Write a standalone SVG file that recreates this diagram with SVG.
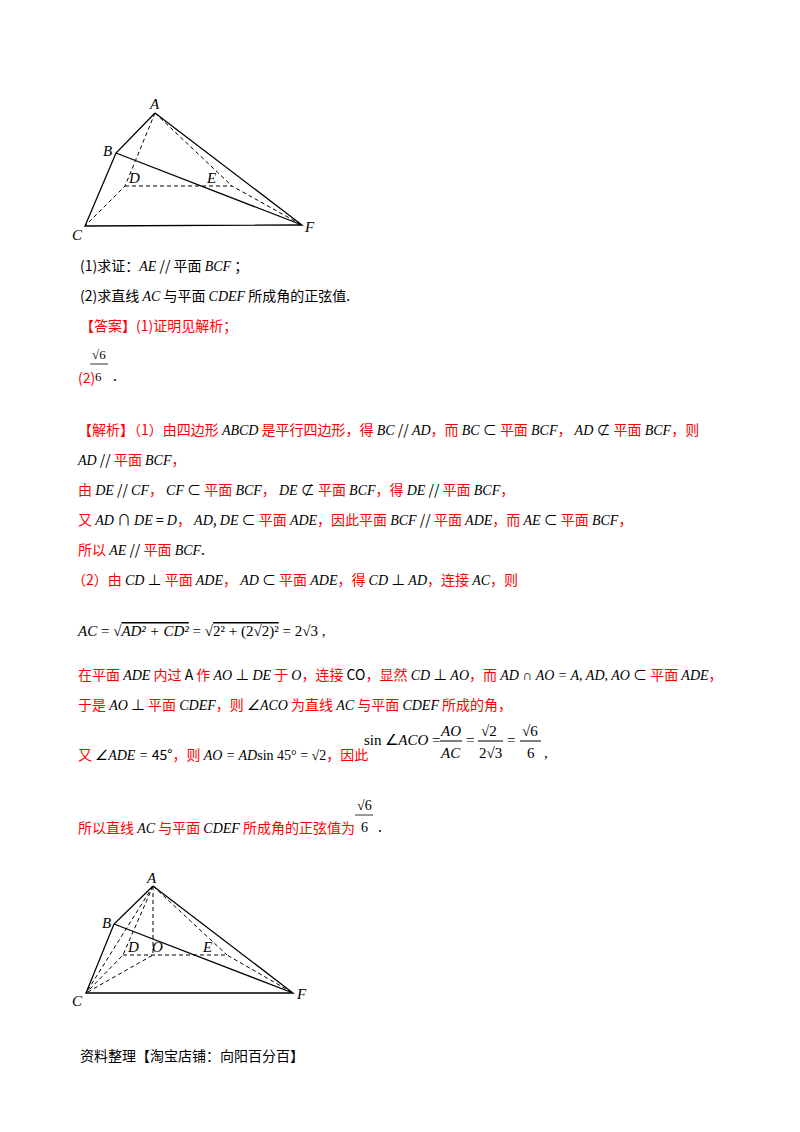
<svg xmlns="http://www.w3.org/2000/svg" width="800" height="1132" viewBox="0 0 800 1132">
<style>
.s{stroke:#000;stroke-width:1.3;fill:none}
.d{stroke:#000;stroke-width:1;fill:none;stroke-dasharray:4,3}
.lb{font-family:"Liberation Serif",serif;font-style:italic;font-size:15px}
.t{font-family:"Noto Sans CJK SC","Liberation Sans",sans-serif;font-size:14px}
.r{fill:#ff0000}
.m{font-family:"Liberation Serif",serif;font-style:italic}
.n{font-family:"Liberation Serif",serif;font-style:normal}
</style>
<rect width="800" height="1132" fill="#fff"/>
<g id="fig1">
<g id="edges1">
<path class="s" d="M155,113L116,153L85,226L302,225L155,113M116,153L302,225"/>
<path class="d" d="M155,113L125,186L85,226M125,186L232,186L302,225M155,113L232,186"/>
</g>
<text class="lb" x="150" y="109">A</text><text class="lb" x="103" y="156">B</text>
<text class="lb" x="129" y="183">D</text><text class="lb" x="207" y="183">E</text>
<text class="lb" x="72" y="240">C</text><text class="lb" x="305" y="232">F</text>
</g>
<g id="text" class="t">
<text x="80" y="271">(1)求证：<tspan class="m">AE</tspan> // 平面 <tspan class="m">BCF</tspan> ；</text>
<text x="80" y="301">(2)求直线 <tspan class="m">AC</tspan> 与平面 <tspan class="m">CDEF</tspan> 所成角的正弦值.</text>
<text class="r" x="80" y="331">【答案】(1)证明见解析；</text>
<text class="n" x="92" y="359" font-size="13">√6</text>
<line x1="90" y1="364" x2="108" y2="364" stroke="#000" stroke-width="0.8"/>
<text class="n" x="95" y="381" font-size="13">6</text>
<text class="r" x="78" y="383">(2)</text><text x="113" y="381">.</text>
<text class="r" x="78" y="435">【解析】（1）由四边形 <tspan class="m" fill="#000">ABCD</tspan> 是平行四边形，得 <tspan class="m" fill="#000">BC</tspan><tspan fill="#000"> // </tspan><tspan class="m" fill="#000">AD</tspan>，而 <tspan class="m" fill="#000">BC</tspan><tspan fill="#000"> ⊂ </tspan>平面 <tspan class="m" fill="#000">BCF</tspan>， <tspan class="m" fill="#000">AD</tspan><tspan fill="#000"> ⊄ </tspan>平面 <tspan class="m" fill="#000">BCF</tspan>，则</text>
<text class="r" x="78" y="465"><tspan class="m" fill="#000">AD</tspan><tspan fill="#000"> // </tspan>平面 <tspan class="m" fill="#000">BCF</tspan>，</text>
<text class="r" x="78" y="495">由 <tspan class="m" fill="#000">DE</tspan><tspan fill="#000"> // </tspan><tspan class="m" fill="#000">CF</tspan>， <tspan class="m" fill="#000">CF</tspan><tspan fill="#000"> ⊂ </tspan>平面 <tspan class="m" fill="#000">BCF</tspan>， <tspan class="m" fill="#000">DE</tspan><tspan fill="#000"> ⊄ </tspan>平面 <tspan class="m" fill="#000">BCF</tspan>，得 <tspan class="m" fill="#000">DE</tspan><tspan fill="#000"> // </tspan>平面 <tspan class="m" fill="#000">BCF</tspan>，</text>
<text class="r" x="78" y="525">又 <tspan class="m" fill="#000">AD</tspan><tspan fill="#000"> ∩ </tspan><tspan class="m" fill="#000">DE</tspan><tspan fill="#000"> = </tspan><tspan class="m" fill="#000">D</tspan>， <tspan class="m" fill="#000">AD</tspan><tspan fill="#000">, </tspan><tspan class="m" fill="#000">DE</tspan><tspan fill="#000"> ⊂ </tspan>平面 <tspan class="m" fill="#000">ADE</tspan>，因此平面 <tspan class="m" fill="#000">BCF</tspan><tspan fill="#000"> // </tspan>平面 <tspan class="m" fill="#000">ADE</tspan>，而 <tspan class="m" fill="#000">AE</tspan><tspan fill="#000"> ⊂ </tspan>平面 <tspan class="m" fill="#000">BCF</tspan>，</text>
<text class="r" x="78" y="555">所以 <tspan class="m" fill="#000">AE</tspan><tspan fill="#000"> // </tspan>平面 <tspan class="m" fill="#000">BCF</tspan><tspan fill="#000">.</tspan></text>
<text class="r" x="72" y="585">（2）由 <tspan class="m" fill="#000">CD</tspan><tspan fill="#000"> ⊥ </tspan>平面 <tspan class="m" fill="#000">ADE</tspan>， <tspan class="m" fill="#000">AD</tspan><tspan fill="#000"> ⊂ </tspan>平面 <tspan class="m" fill="#000">ADE</tspan>，得 <tspan class="m" fill="#000">CD</tspan><tspan fill="#000"> ⊥ </tspan><tspan class="m" fill="#000">AD</tspan>，连接 <tspan class="m" fill="#000">AC</tspan>，则</text>
<text class="n" x="78" y="636" font-size="15"><tspan class="m">AC</tspan> = √<tspan class="m" text-decoration="overline">AD² + CD²</tspan> = √<tspan text-decoration="overline">2² + (2√2)²</tspan> = 2√3 ,</text>
<text class="r" x="78" y="680">在平面 <tspan class="m" fill="#000">ADE</tspan> 内过 <tspan fill="#000">A</tspan> 作 <tspan class="m" fill="#000">AO</tspan><tspan fill="#000"> ⊥ </tspan><tspan class="m" fill="#000">DE</tspan> 于 <tspan class="m" fill="#000">O</tspan>，连接 <tspan fill="#000">CO</tspan>，显然 <tspan class="m" fill="#000">CD</tspan><tspan fill="#000"> ⊥ </tspan><tspan class="m" fill="#000">AO</tspan>，而 <tspan class="m" fill="#000">AD ∩ AO = A, AD, AO</tspan><tspan fill="#000"> ⊂ </tspan>平面 <tspan class="m" fill="#000">ADE</tspan>，</text>
<text class="r" x="78" y="710">于是 <tspan class="m" fill="#000">AO</tspan><tspan fill="#000"> ⊥ </tspan>平面 <tspan class="m" fill="#000">CDEF</tspan>，则 <tspan class="m" fill="#000">∠ACO</tspan> 为直线 <tspan class="m" fill="#000">AC</tspan> 与平面 <tspan class="m" fill="#000">CDEF</tspan> 所成的角，</text>
<text class="r" x="78" y="760">又 <tspan class="m" fill="#000">∠ADE = </tspan><tspan fill="#000">45°</tspan>，则 <tspan class="m" fill="#000">AO = AD</tspan><tspan class="n" fill="#000">sin 45° = √2</tspan>，因此</text>
<g class="n" font-size="15">
<text x="364" y="745">sin ∠<tspan class="m">ACO</tspan> =</text>
<text class="m" x="441" y="736">AO</text><line x1="440" y1="741" x2="462" y2="741" stroke="#000"/><text class="m" x="441" y="758">AC</text>
<text x="466" y="745">=</text>
<text x="481" y="736">√2</text><line x1="478" y1="741" x2="503" y2="741" stroke="#000"/><text x="479" y="758">2√3</text>
<text x="507" y="745">=</text>
<text x="522" y="736">√6</text><line x1="520" y1="741" x2="541" y2="741" stroke="#000"/><text x="527" y="758">6</text>
<text x="544" y="758">,</text>
</g>
<text class="r" x="78" y="833">所以直线 <tspan class="m" fill="#000">AC</tspan> 与平面 <tspan class="m" fill="#000">CDEF</tspan> 所成角的正弦值为</text>
<text class="n" x="357" y="810" font-size="14">√6</text>
<line x1="355" y1="815" x2="373" y2="815" stroke="#000" stroke-width="0.8"/>
<text class="n" x="361" y="832" font-size="14">6</text>
<text x="378" y="832">.</text>
</g>
<g id="fig2">
<g id="edges2">
<path class="s" d="M153,886L114,924L86,993L293,993L153,886M114,924L293,993"/>
<path class="d" d="M153,886L123,955L86,993M123,955L227,955L293,993M153,886L227,955M153,886L153,955L86,993M153,886L86,993"/>
</g>
<text class="lb" x="147" y="883">A</text><text class="lb" x="102" y="928">B</text>
<text class="lb" x="128" y="952">D</text><text class="lb" x="152" y="952">O</text><text class="lb" x="203" y="952">E</text>
<text class="lb" x="72" y="1006">C</text><text class="lb" x="297" y="999">F</text>
</g>
<text class="t" x="80" y="1061">资料整理【淘宝店铺：向阳百分百】</text>
</svg>
